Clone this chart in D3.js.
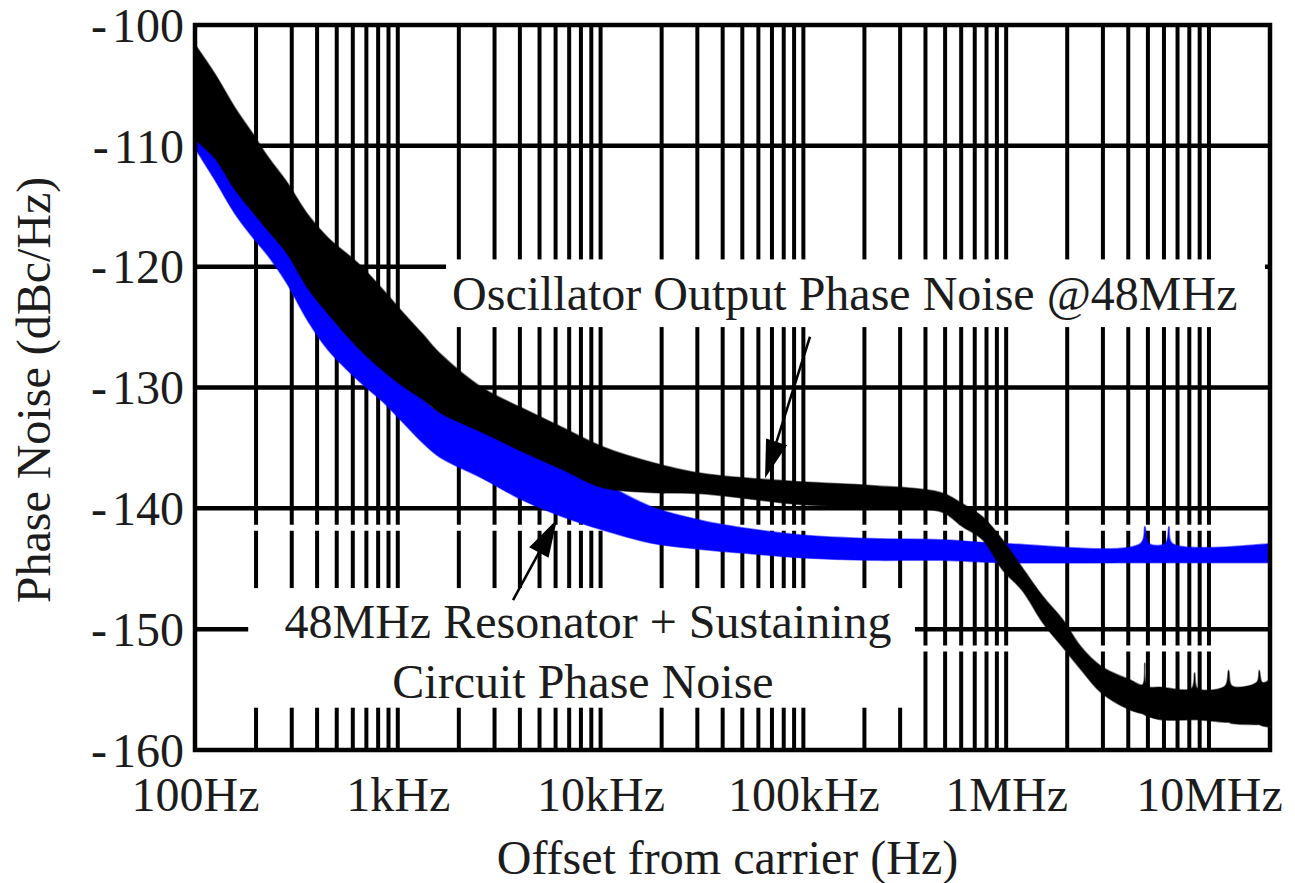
<!DOCTYPE html>
<html>
<head>
<meta charset="utf-8">
<script src="https://cdn.jsdelivr.net/npm/d3@7"></script>
<style>
    body { margin: 0; background: #ffffff; }
    svg { display: block; }
    text { font-family: "Liberation Serif", "Times New Roman", serif; fill: #1c1c1c; }
</style>
</head>
<body>
<svg id="chart" width="1295" height="883"></svg>
<script>

// oscillator output phase noise, black band (Hz, dBc/Hz)
var oscFreq = [100, 125, 157, 193, 229, 284, 357, 453, 636, 845, 1060, 1330, 1620,
    2600, 4100, 6500, 10250, 18000, 31500, 98000, 216000, 480000, 607000, 765000, 960000,
    1.2e6, 1.52e6, 1.9e6, 2.35e6, 2.96e6, 4.1e6, 4.7e6, 4.83e6, 4.97e6,
    5.8e6, 8.2e6, 8.5e6, 8.8e6, 1.2e7, 1.25e7, 1.3e7, 1.72e7, 1.77e7, 1.83e7, 1.97e7, 2e7];
var oscUpper = [-101.6, -104.0, -106.8, -109.0, -110.9, -113.0, -115.6, -117.6, -119.7, -121.9, -123.8, -125.6, -127.2,
    -130.0, -131.7, -133.3, -134.9, -136.2, -137.1, -137.8, -138.1, -138.7, -139.6, -140.7, -142.6,
    -144.9, -147.3, -149.2, -151.5, -153.1, -154.2, -154.6, -152.8, -154.7,
    -154.8, -154.9, -153.6, -154.9, -154.7, -153.4, -154.7, -154.4, -153.4, -154.4, -154.2, -150.3];
var oscLower = [-109.5, -111.0, -113.6, -115.5, -117.0, -118.9, -121.7, -123.9, -126.7, -128.6, -129.9, -131.0, -132.1,
    -133.7, -135.3, -136.8, -138.3, -138.7, -138.8, -139.7, -139.9, -140.3, -141.5, -142.6, -145.1,
    -146.8, -149.5, -151.5, -153.4, -155.3, -156.7, -157.0, -157.1, -157.2,
    -157.5, -157.5, -157.5, -157.5, -157.7, -157.7, -157.8, -157.9, -157.9, -158.0, -158.1, -158.1];

// resonator + sustaining circuit phase noise, blue band
var resFreq = [100, 125, 157, 193, 229, 284, 357, 453, 636, 845, 1060, 1330, 1620,
    2600, 4100, 6500, 10250, 18000, 31500, 50000, 98000, 216000, 480000, 960000,
    4.6e6, 4.83e6, 5.05e6, 6.1e6, 6.35e6, 6.6e6, 2e7];
var resUpper = [-104.0, -107.0, -110.0, -112.0, -114.0, -117.0, -120.0, -122.5, -125.5, -127.5, -129.5, -131.0, -132.1,
    -133.5, -135.0, -136.5, -137.9, -139.9, -141.0, -141.6, -142.2, -142.5, -142.6, -142.9,
    -142.9, -141.5, -142.9, -142.9, -141.5, -142.9, -142.9];
var resLower = [-110.2, -112.8, -115.6, -117.6, -119.1, -121.4, -124.4, -126.9, -129.4, -131.2, -132.9, -134.6, -135.8,
    -137.5, -139.3, -140.7, -141.8, -142.9, -143.4, -143.7, -144.1, -144.3, -144.3, -144.5,
    -144.5, -144.5, -144.5, -144.5, -144.5, -144.5, -144.5];

var xTickValues = [100, 1e3, 1e4, 1e5, 1e6, 1e7];
var xTickLabels = ["100Hz", "1kHz", "10kHz", "100kHz", "1MHz", "10MHz"];
var yTickValues = [-100, -110, -120, -130, -140, -150, -160];

// annotations, placed in data units: [Hz, dBc/Hz]
var oscNote = "Oscillator Output Phase Noise @48MHz";
var resNote = ["48MHz Resonator + Sustaining", "Circuit Phase Noise"];


class PhaseNoiseGraph {

    constructor(id) {
        this.svg = d3.select("#" + id);

        this.width = 1295;
        this.height = 883;
        this.left = 195;
        this.right = 1270;
        this.top = 25;
        this.bottom = 750;
        this.fontSize = 48;
    }

    setup() {
        this.computeScales();
        this.drawGrid();
        this.drawNoteBoxes();
        this.drawBands();
        this.drawNotes();
        this.drawAxes();
    }

    computeScales() {
        this.x = d3.scaleLog().domain([100, 2e7]).range([this.left, this.right]);
        this.y = d3.scaleLinear().domain([-100, -160]).range([this.top, this.bottom]);
    }

    drawGrid() {
        var x = this.x, y = this.y;
        var g = this.svg.append("g");

        var vticks = x.ticks().filter(function (d) { return d > 100 && d < 2e7; });
        g.selectAll(".v").data(vticks).enter().append("line")
            .attr("x1", function (d) { return x(d); })
            .attr("x2", function (d) { return x(d); })
            .attr("y1", this.top)
            .attr("y2", this.bottom)
            .attr("stroke", "#000")
            .attr("stroke-width", 4);

        g.selectAll(".h").data(yTickValues.slice(1, -1)).enter().append("line")
            .attr("x1", this.left)
            .attr("x2", this.right)
            .attr("y1", function (d) { return y(d); })
            .attr("y2", function (d) { return y(d); })
            .attr("stroke", "#000")
            .attr("stroke-width", 4.5);

        // thin white breaks that run through the grid below -140 and -150
        var breaks = [-141.6, -151.6];
        g.selectAll(".b").data(breaks).enter().append("line")
            .attr("x1", this.left + 3)
            .attr("x2", this.right - 3)
            .attr("y1", function (d) { return y(d); })
            .attr("y2", function (d) { return y(d); })
            .attr("stroke", "#fff")
            .attr("stroke-width", 6);
    }

    drawNoteBoxes() {
        var x = this.x, y = this.y;
        var boxes = [
            [[1729, -119.4], [1.89e7, -125.0]],
            [[183, -146.6], [355000, -156.5]]
        ];
        for (var i = 0; i < boxes.length; i += 1) {
            var b = boxes[i];
            this.svg.append("rect")
                .attr("x", x(b[0][0]))
                .attr("y", y(b[0][1]))
                .attr("width", x(b[1][0]) - x(b[0][0]))
                .attr("height", y(b[1][1]) - y(b[0][1]))
                .attr("fill", "#fff");
        }
    }

    band(freq, upper, lower) {
        var rows = [];
        for (var i = 0; i < freq.length; i += 1) {
            rows.push({ f: freq[i], hi: upper[i], lo: lower[i] });
        }
        return rows;
    }

    drawBands() {
        var x = this.x, y = this.y;
        var area = d3.area()
            .x(function (d) { return x(d.f); })
            .y0(function (d) { return y(d.lo); })
            .y1(function (d) { return y(d.hi); })
            .curve(d3.curveCatmullRom.alpha(0.5));

        this.svg.append("path")
            .attr("d", area(this.band(resFreq, resUpper, resLower)))
            .attr("fill", "#0000ff")
            .attr("stroke", "#0000ff")
            .attr("stroke-opacity", 0.5)
            .attr("stroke-width", 1.5);

        this.svg.append("path")
            .attr("d", area(this.band(oscFreq, oscUpper, oscLower)))
            .attr("fill", "#000")
            .attr("stroke", "#000")
            .attr("stroke-opacity", 0.5)
            .attr("stroke-width", 1.5);
    }

    drawArrow(from, to) {
        var x0 = this.x(from[0]), y0 = this.y(from[1]);
        var x1 = this.x(to[0]), y1 = this.y(to[1]);
        var dx = x1 - x0, dy = y1 - y0;
        var len = Math.sqrt(dx * dx + dy * dy);
        var ux = dx / len, uy = dy / len;
        var headLen = 38, headW = 11;
        var bx = x1 - ux * headLen, by = y1 - uy * headLen;

        this.svg.append("path")
            .attr("d", d3.line()([[x0, y0], [bx + ux * 4, by + uy * 4]]))
            .attr("stroke", "#000")
            .attr("stroke-width", 2.5)
            .attr("fill", "none");

        this.svg.append("path")
            .attr("d", d3.line()([[x1, y1], [bx - uy * headW, by + ux * headW], [bx + uy * headW, by - ux * headW]]) + "Z")
            .attr("fill", "#000");
    }

    drawNotes() {
        var x = this.x, y = this.y;

        this.svg.append("text")
            .attr("x", x(160000))
            .attr("y", y(-123.6))
            .attr("text-anchor", "middle")
            .attr("font-size", this.fontSize)
            .text(oscNote);

        this.svg.append("text")
            .attr("x", x(8670))
            .attr("y", y(-150.7))
            .attr("text-anchor", "middle")
            .attr("font-size", this.fontSize)
            .text(resNote[0]);

        this.svg.append("text")
            .attr("x", x(8190))
            .attr("y", y(-155.7))
            .attr("text-anchor", "middle")
            .attr("font-size", this.fontSize)
            .text(resNote[1]);

        this.drawArrow([107800, -125.8], [64700, -137.5]);
        this.drawArrow([3700, -147.6], [6100, -140.9]);
    }

    drawAxes() {
        var fs = this.fontSize;

        var xa = this.svg.append("g")
            .attr("transform", "translate(0," + this.bottom + ")")
            .call(d3.axisBottom(this.x)
                .tickValues(xTickValues)
                .tickFormat(function (d, i) { return xTickLabels[i]; })
                .tickSize(0)
                .tickPadding(27));
        xa.select(".domain").remove();
        xa.attr("font-family", null).attr("font-size", fs);
        xa.selectAll("text").attr("fill", "#1c1c1c");

        var ya = this.svg.append("g")
            .attr("transform", "translate(" + this.left + ",0)")
            .call(d3.axisLeft(this.y)
                .tickValues(yTickValues)
                .tickSize(0)
                .tickPadding(11));
        ya.select(".domain").remove();
        ya.attr("font-family", null).attr("font-size", fs);

        // hyphen sits a little apart from the digits
        ya.selectAll("text")
            .attr("fill", "#1c1c1c")
            .attr("dy", "0.34em")
            .text(null)
            .each(function (d) {
                var t = d3.select(this);
                t.append("tspan").text("-");
                t.append("tspan").attr("dx", 5).text(Math.abs(d));
            });

        // frame
        this.svg.append("rect")
            .attr("x", this.left)
            .attr("y", this.top)
            .attr("width", this.right - this.left)
            .attr("height", this.bottom - this.top)
            .attr("fill", "none")
            .attr("stroke", "#000")
            .attr("stroke-width", 4.5);

        this.svg.append("text")
            .attr("x", (this.left + this.right) / 2 - 5)
            .attr("y", 874)
            .attr("text-anchor", "middle")
            .attr("font-size", fs)
            .text("Offset from carrier (Hz)");

        this.svg.append("text")
            .attr("transform", "translate(50,390) rotate(-90)")
            .attr("text-anchor", "middle")
            .attr("font-size", fs)
            .text("Phase Noise (dBc/Hz)");
    }

}

var graph = new PhaseNoiseGraph("chart");
graph.setup();

</script>
</body>
</html>
